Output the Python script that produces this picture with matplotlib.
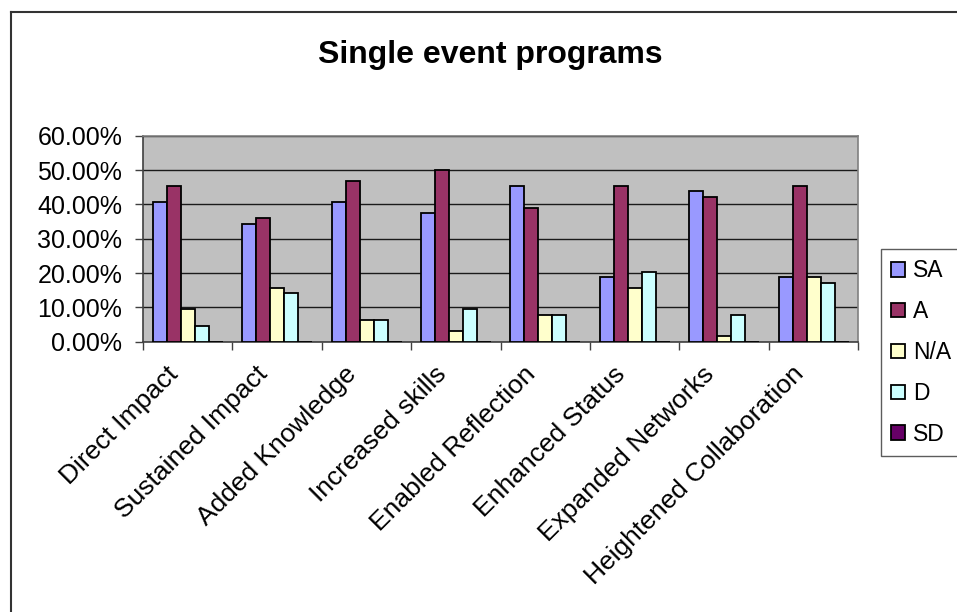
import matplotlib
matplotlib.use("Agg")
import matplotlib.pyplot as plt
from matplotlib.lines import Line2D
from matplotlib.transforms import ScaledTranslation
import numpy as np

plt.rcParams['font.family'] = ['Liberation Sans', 'DejaVu Sans']

categories = ["Direct Impact", "Sustained Impact", "Added Knowledge", "Increased skills",
              "Enabled Reflection", "Enhanced Status", "Expanded Networks",
              "Heightened Collaboration"]
series_names = ["SA", "A", "N/A", "D", "SD"]
sa = [40.63, 34.38, 40.63, 37.50, 45.31, 18.75, 43.75, 18.75]
a = [45.31, 35.94, 46.88, 50.00, 39.06, 45.31, 42.19, 45.31]
na = [9.38, 15.63, 6.25, 3.13, 7.81, 15.63, 1.56, 18.75]
d = [4.69, 14.06, 6.25, 9.38, 7.81, 20.31, 7.81, 17.19]
sd = [0, 0, 0, 0, 0, 0, 0, 0]
yticks = [0, 10, 20, 30, 40, 50, 60]
colors = ["#9999FF", "#993366", "#FFFFCC", "#CCFFFF", "#660066"]

W, H = 957, 612
fig = plt.figure(figsize=(W / 100, H / 100), dpi=100)

# outer chart border (top and left edges)
fig.add_artist(Line2D([11 / W, 1.0], [1 - 12 / H, 1 - 12 / H], transform=fig.transFigure,
                      color="#333333", lw=1.5))
fig.add_artist(Line2D([11 / W, 11 / W], [0, 1 - 12 / H], transform=fig.transFigure,
                      color="#333333", lw=1.5))

left, right, top, bottom = 143, 858.3, 135.7, 341.7
ax = fig.add_axes([left / W, 1 - bottom / H, (right - left) / W, (bottom - top) / H])
ax.set_facecolor("#C0C0C0")

n = len(categories)
x = np.arange(n) + 0.5
bw = 0.1566
values = [sa, a, na, d, sd]
for k, (vals, c, name) in enumerate(zip(values, colors, series_names)):
    ax.bar(x + (k - 2) * bw, vals, width=bw, color=c, edgecolor="black",
           linewidth=1.3, label=name, zorder=3)

ax.set_xlim(0, n)
ax.set_ylim(0, 60)
ax.set_yticks(yticks)
ax.set_yticklabels([f"{v:.2f}%" for v in yticks])
ax.yaxis.grid(True, color="#1a1a1a", lw=1.0, zorder=1)
ax.set_axisbelow(True)

ax.set_xticks(np.arange(n + 1))
ax.set_xticklabels([])
ax.set_xticks(x, minor=True)
ax.set_xticklabels(categories, minor=True, rotation=45, ha="right", va="top",
                   rotation_mode="anchor", fontsize=19)
ax.tick_params(axis="x", which="minor", length=0, pad=0)
ax.tick_params(axis="x", which="major", direction="out", length=6, width=1, color="#404040")
ax.tick_params(axis="y", direction="out", length=6, width=1, color="#404040",
               labelsize=18, pad=9)
off = ScaledTranslation(-22 / 100, -20 / 100, fig.dpi_scale_trans)
for lab in ax.get_xticklabels(minor=True):
    lab.set_transform(lab.get_transform() + off)

for s in ["left", "bottom"]:
    ax.spines[s].set_color("#404040")
    ax.spines[s].set_linewidth(1.2)
for s in ["top", "right"]:
    ax.spines[s].set_color("#808080")
    ax.spines[s].set_linewidth(1.2)

fig.text(490 / W, 1 - 55 / H, "Single event programs", ha="center", va="center",
         fontsize=23, fontweight="bold")

leg = fig.legend(loc="upper left", bbox_to_anchor=(881 / W, 1 - 249 / H),
                 bbox_transform=fig.transFigure, fontsize=16.5, frameon=True,
                 fancybox=False, shadow=False, borderaxespad=0, borderpad=0.45,
                 labelspacing=0.78, handlelength=0.6, handleheight=0.6,
                 handletextpad=0.35)
leg.get_frame().set_edgecolor("#333333")
leg.get_frame().set_linewidth(1.0)

fig.savefig("out.png", dpi=100)
